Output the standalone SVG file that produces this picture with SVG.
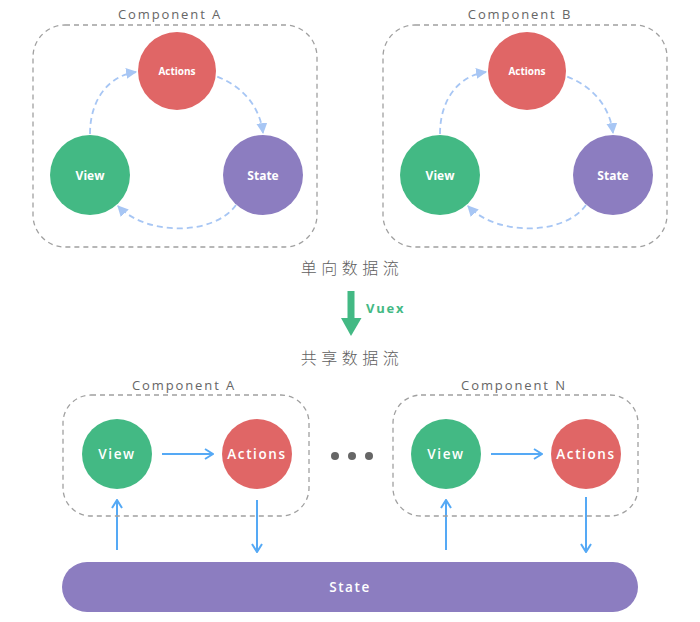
<svg xmlns="http://www.w3.org/2000/svg" width="700" height="622" viewBox="0 0 700 622">
<style>
.box{fill:none;stroke:#a0a0a0;stroke-width:1.3;stroke-dasharray:5 4}
.lbl{font-family:"Open Sans","Noto Sans","Liberation Sans",sans-serif;font-size:13px;fill:#666;letter-spacing:1.9px;text-anchor:middle}
.cn{font-family:"Noto Sans CJK SC","Noto Sans",sans-serif;font-size:16px;fill:#606060;letter-spacing:4.5px;text-anchor:middle;font-weight:300}
.green{fill:#43b984}
.red{fill:#e06666}
.purple{fill:#8c7dc0}
.t1{font-family:"Open Sans","Noto Sans","Liberation Sans",sans-serif;font-weight:700;fill:#fff;text-anchor:middle}
.t2{font-family:"Open Sans","Noto Sans","Liberation Sans",sans-serif;font-weight:600;fill:#fff;text-anchor:middle;font-size:13.5px;letter-spacing:1.6px}
.dash{fill:none;stroke:#a7c6f4;stroke-width:1.8;stroke-dasharray:6 4}
.blue{fill:none;stroke:#55a9f5;stroke-width:2}
</style>
<defs>
<marker id="tri" viewBox="0 0 10 10" refX="9" refY="5" markerWidth="11" markerHeight="11" markerUnits="userSpaceOnUse" orient="auto">
<path d="M0,0 L10,5 L0,10 Z" fill="#a7c6f4"/>
</marker>
<marker id="chev" viewBox="0 0 10 12" refX="9" refY="6" markerWidth="10" markerHeight="12" markerUnits="userSpaceOnUse" orient="auto">
<path d="M1,1 L9,6 L1,11" fill="none" stroke="#55a9f5" stroke-width="2"/>
</marker>
</defs>

<g id="componentA-top">
<rect class="box" x="33" y="25" width="284" height="222" rx="32"/>
<text class="lbl" x="170" y="19">Component A</text>
</g>
<g id="componentB-top">
<rect class="box" x="383" y="25" width="284" height="222" rx="32"/>
<text class="lbl" x="520" y="19">Component B</text>
</g>

<g id="connectors">
<path class="dash" d="M90,134 C90,100 108,76 136,72" marker-end="url(#tri)"/>
<path class="dash" d="M198,71 C234,78 259,100 263,133" marker-end="url(#tri)"/>
<path class="dash" d="M236,205 C214,236 146,236 118,206" marker-end="url(#tri)"/>
<path class="dash" d="M440,134 C440,100 458,76 486,72" marker-end="url(#tri)"/>
<path class="dash" d="M548,71 C584,78 609,100 613,133" marker-end="url(#tri)"/>
<path class="dash" d="M586,205 C564,236 496,236 468,206" marker-end="url(#tri)"/>
<path class="blue" d="M162,454 L213,454" marker-end="url(#chev)"/>
<path class="blue" d="M491,454 L542,454" marker-end="url(#chev)"/>
<path class="blue" d="M117,550 L117,500" marker-end="url(#chev)"/>
<path class="blue" d="M257,500 L257,552" marker-end="url(#chev)"/>
<path class="blue" d="M446,550 L446,500" marker-end="url(#chev)"/>
<path class="blue" d="M586,497 L586,552" marker-end="url(#chev)"/>
</g>

<g id="actionsA">
<circle class="red" cx="177" cy="71" r="39"/>
<text class="t1" x="177" y="75" font-size="10">Actions</text>
</g>
<g id="viewA">
<circle class="green" cx="90" cy="175" r="40"/>
<text class="t1" x="90" y="180" font-size="12">View</text>
</g>
<g id="stateA">
<circle class="purple" cx="263" cy="175" r="40"/>
<text class="t1" x="263" y="180" font-size="12">State</text>
</g>
<g id="actionsB">
<circle class="red" cx="527" cy="71" r="39"/>
<text class="t1" x="527" y="75" font-size="10">Actions</text>
</g>
<g id="viewB">
<circle class="green" cx="440" cy="175" r="40"/>
<text class="t1" x="440" y="180" font-size="12">View</text>
</g>
<g id="stateB">
<circle class="purple" cx="613" cy="175" r="40"/>
<text class="t1" x="613" y="180" font-size="12">State</text>
</g>

<g id="middle">
<text class="cn" x="352" y="274">单向数据流</text>
<rect class="green" x="347.5" y="291" width="7" height="28"/>
<path class="green" d="M341,318 L361.5,318 L351,336 Z"/>
<text x="366" y="313" font-family="'Open Sans','Noto Sans','Liberation Sans',sans-serif" font-weight="700" font-size="13" fill="#43b984" letter-spacing="1.8">Vuex</text>
<text class="cn" x="352" y="364">共享数据流</text>
</g>

<g id="componentA-bottom">
<rect class="box" x="63" y="395" width="246" height="121" rx="28"/>
<text class="lbl" x="184" y="390">Component A</text>
</g>
<g id="componentN-bottom">
<rect class="box" x="393" y="395" width="245" height="121" rx="28"/>
<text class="lbl" x="514" y="390">Component N</text>
</g>

<g id="viewA2">
<circle class="green" cx="117" cy="454" r="35"/>
<text class="t2" x="117" y="459">View</text>
</g>
<g id="actionsA2">
<circle class="red" cx="257" cy="454" r="35"/>
<text class="t2" x="257" y="459">Actions</text>
</g>
<g id="viewN">
<circle class="green" cx="446" cy="454" r="35"/>
<text class="t2" x="446" y="459">View</text>
</g>
<g id="actionsN">
<circle class="red" cx="586" cy="454" r="35"/>
<text class="t2" x="586" y="459">Actions</text>
</g>

<g id="ellipsis">
<circle cx="335" cy="456" r="4" fill="#666"/>
<circle cx="352" cy="456" r="4" fill="#666"/>
<circle cx="369" cy="456" r="4" fill="#666"/>
</g>

<g id="state-bar">
<rect class="purple" x="62" y="562" width="576" height="50" rx="25"/>
<text class="t2" x="350" y="592" font-weight="400">State</text>
</g>
</svg>
